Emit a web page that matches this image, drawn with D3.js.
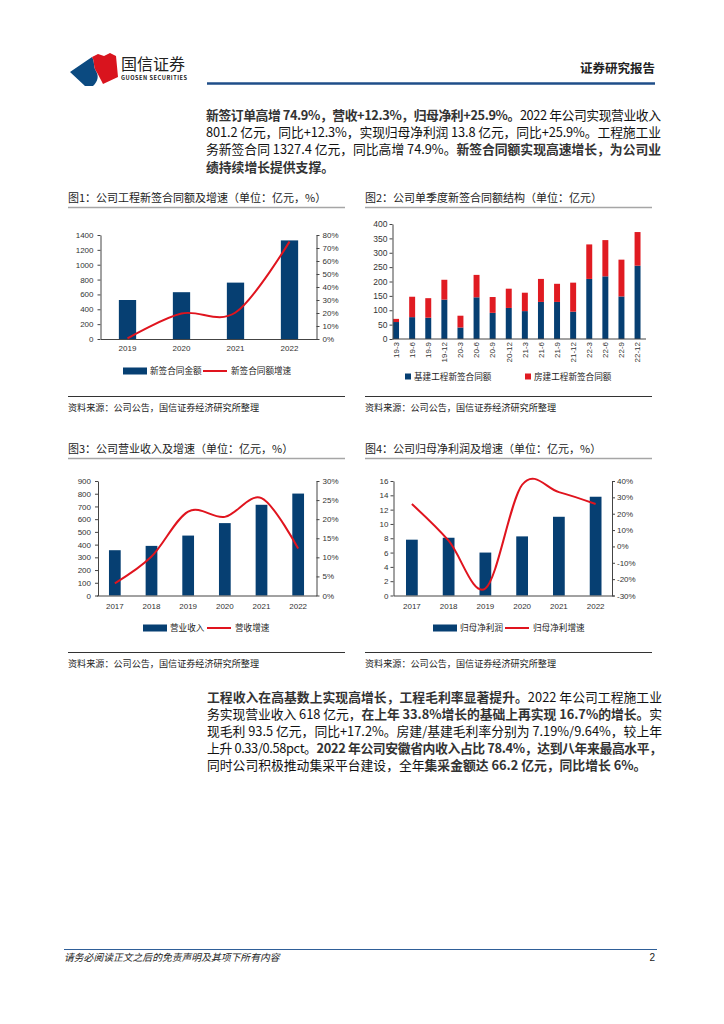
<!DOCTYPE html>
<html>
<head>
<meta charset="utf-8">
<script src="https://cdn.jsdelivr.net/npm/d3@7"></script>
<style>
body { margin: 0; background: #fff; }
svg text { font-family: "Noto Sans CJK SC", "Noto Sans", sans-serif; fill: #222; }
.tick text { font-family: "Liberation Sans", Arial, sans-serif; font-size: 8px; fill: #333; }
.domain, .tick line { stroke: #444; }
</style>
</head>
<body>
<svg id="page" width="724" height="1024"></svg>
<script>
// 图1 数据
var c1Years = ["2019", "2020", "2021", "2022"];
var c1Amount = [525, 630, 759, 1327.4];
var c1Growth = [0.5, 19.6, 20.4, 74.9];
var c1LeftTicks = [0, 200, 400, 600, 800, 1000, 1200, 1400];
var c1RightTicks = [0, 10, 20, 30, 40, 50, 60, 70, 80];

// 图2 数据
var c2Quarters = ["19-3", "19-6", "19-9", "19-12", "20-3", "20-6", "20-9", "20-12",
                  "21-3", "21-6", "21-9", "21-12", "22-3", "22-6", "22-9", "22-12"];
var c2Infra = [59, 76, 74, 137, 40, 145, 91, 108, 97, 129, 129, 95, 209, 218, 148, 255];
var c2Housing = [11, 71, 68, 69, 41, 78, 55, 67, 64, 80, 63, 101, 120, 126, 128, 117];
var c2Ticks = [0, 50, 100, 150, 200, 250, 300, 350, 400];

// 图3 数据
var c3Years = ["2017", "2018", "2019", "2020", "2021", "2022"];
var c3Revenue = [356, 390, 471, 569, 713, 801.2];
var c3Growth = [3.2, 10.2, 22.0, 20.6, 25.5, 12.3];
var c3LeftTicks = [0, 100, 200, 300, 400, 500, 600, 700, 800, 900];
var c3RightTicks = [0, 5, 10, 15, 20, 25, 30];

// 图4 数据
var c4Years = ["2017", "2018", "2019", "2020", "2021", "2022"];
var c4Profit = [7.8, 8.07, 6.0, 8.26, 11.0, 13.8];
var c4Growth = [25.9, 3.5, -25.7, 37.7, 33.2, 25.9];
var c4LeftTicks = [0, 2, 4, 6, 8, 10, 12, 14, 16];
var c4RightTicks = [-30, -20, -10, 0, 10, 20, 30, 40];

// 正文
var topLines = [
  [["新签订单高增 74.9%，营收+12.3%，归母净利+25.9%。", 1], ["2022 年公司实现营业收入", 0]],
  [["801.2 亿元，同比+12.3%，实现归母净利润 13.8 亿元，同比+25.9%。工程施工业", 0]],
  [["务新签合同 1327.4 亿元，同比高增 74.9%。", 0], ["新签合同额实现高速增长，为公司业", 1]],
  [["绩持续增长提供支撑。", 1]]
];
var bottomLines = [
  [["工程收入在高基数上实现高增长，工程毛利率显著提升。", 1], ["2022 年公司工程施工业", 0]],
  [["务实现营业收入 618 亿元，", 0], ["在上年 33.8%增长的基础上再实现 16.7%的增长。", 1], ["实", 0]],
  [["现毛利 93.5 亿元，同比+17.2%。房建/基建毛利率分别为 7.19%/9.64%，较上年", 0]],
  [["上升 0.33/0.58pct。", 0], ["2022 年公司安徽省内收入占比 78.4%，达到八年来最高水平，", 1]],
  [["同时公司积极推动集采平台建设，全年", 0], ["集采金额达 66.2 亿元，同比增长 6%。", 1]]
];

var BLUE = "#063f72", RED = "#e0141e";
var svg = d3.select("#page");

// 页眉
svg.append("path").attr("d", "M70,72 L92,57 C95,62 93,66 96,71 C99,76 98,81 93,86 L85,86 Z").attr("fill", "#0b4a80");
svg.append("path").attr("d", "M92,57 L98,54 L104,56 L110,53 L116,56 L118,77 L103,84 C101,80 99,76 96,71 C93,66 95,62 92,57 Z").attr("fill", "#d9141e");
svg.append("text").attr("x", 121).attr("y", 70).attr("font-size", 16).attr("fill", "#333").text("国信证券");
svg.append("text").attr("x", 121).attr("y", 80).attr("font-size", 5.6).attr("font-family", "Liberation Sans").attr("font-weight", "bold")
  .attr("fill", "#333").attr("textLength", 66).text("GUOSEN SECURITIES");
svg.append("text").attr("x", 655).attr("y", 73).attr("text-anchor", "end").attr("font-size", 12.5).attr("font-weight", "bold")
  .attr("fill", "#444").text("证券研究报告");
svg.append("line").attr("x1", 207).attr("x2", 655).attr("y1", 83.5).attr("y2", 83.5).attr("stroke", "#1f4e89").attr("stroke-width", 2.5);

function paragraph(lines, x, y0, lh, width) {
  lines.forEach(function (segs, i) {
    var t = svg.append("text").attr("x", x).attr("y", y0 + i * lh).attr("font-size", 12.8);
    if (i < lines.length - 1) t.attr("textLength", width).attr("lengthAdjust", "spacing");
    segs.forEach(function (s) {
      t.append("tspan").attr("font-weight", s[1] ? "bold" : "normal").attr("fill", s[1] ? "#333" : "#111").text(s[0]);
    });
  });
}
paragraph(topLines, 206, 120, 17.2, 455);
paragraph(bottomLines, 207, 702, 17, 455);

function frame(x0, x1, titleY, title, bottomY) {
  svg.append("text").attr("x", x0).attr("y", titleY).attr("font-size", 11).attr("fill", "#222").text(title);
  svg.append("line").attr("x1", x0).attr("x2", x1).attr("y1", titleY + 5.5).attr("y2", titleY + 5.5).attr("stroke", "#a6a6a6").attr("stroke-width", 1.5);
  svg.append("line").attr("x1", x0).attr("x2", x1).attr("y1", bottomY).attr("y2", bottomY).attr("stroke", "#333").attr("stroke-width", 1);
  svg.append("text").attr("x", x0).attr("y", bottomY + 14).attr("font-size", 9.1).attr("fill", "#222").text("资料来源：公司公告，国信证券经济研究所整理");
}

function combo(c) {
  var g = svg.append("g");
  var x = d3.scaleBand().domain(c.cats).range(c.xr);
  var yL = d3.scaleLinear().domain(c.ld).range(c.yr);
  var yR = d3.scaleLinear().domain(c.rd).range(c.yr);
  var bw = x.bandwidth() * c.bf;
  g.selectAll("rect").data(c.bars).join("rect")
    .attr("x", function (d, i) { return x(c.cats[i]) + (x.bandwidth() - bw) / 2; })
    .attr("width", bw)
    .attr("y", function (d) { return yL(d); })
    .attr("height", function (d) { return yL(c.ld[0]) - yL(d); })
    .attr("fill", BLUE);
  g.append("g").attr("transform", "translate(" + c.axL + ",0)")
    .call(d3.axisLeft(yL).tickValues(c.lt).tickSize(3).tickSizeOuter(0).tickPadding(c.padL).tickFormat(d3.format("d")));
  g.append("g").attr("transform", "translate(" + c.axR + ",0)")
    .call(d3.axisRight(yR).tickValues(c.rt).tickSize(3).tickSizeOuter(0).tickPadding(c.padR).tickFormat(function (d) { return d + "%"; }));
  g.append("g").attr("transform", "translate(0," + c.yr[0] + ")")
    .call(d3.axisBottom(x).tickSize(0).tickSizeOuter(0).tickPadding(c.padX));
  var line = d3.line()
    .x(function (d, i) { return x(c.cats[i]) + x.bandwidth() / 2; })
    .y(function (d) { return yR(d); })
    .curve(d3.curveCardinal);
  g.append("path").datum(c.growth).attr("d", line).attr("fill", "none").attr("stroke", RED).attr("stroke-width", 2);
  // 图例
  var ly = c.legY;
  g.append("rect").attr("x", c.leg[0]).attr("y", ly - 3.5).attr("width", 24).attr("height", 7).attr("fill", BLUE);
  g.append("text").attr("x", c.leg[0] + 27).attr("y", ly).attr("dy", "0.35em").attr("font-size", 8.6).text(c.names[0]);
  g.append("line").attr("x1", c.leg[1]).attr("x2", c.leg[1] + 24).attr("y1", ly).attr("y2", ly).attr("stroke", RED).attr("stroke-width", 2);
  g.append("text").attr("x", c.leg[1] + 28).attr("y", ly).attr("dy", "0.35em").attr("font-size", 8.6).text(c.names[1]);
}

// 图1
frame(68, 345, 202, "图1：公司工程新签合同额及增速（单位：亿元，%）", 396.5);
combo({
  cats: c1Years, bars: c1Amount, growth: c1Growth,
  xr: [100.5, 316.5], yr: [339, 235], ld: [0, 1400], rd: [0, 80],
  lt: c1LeftTicks, rt: c1RightTicks, bf: 0.32,
  axL: 100.5, axR: 316.5, padL: 4, padR: 3, padX: 6,
  legY: 371, leg: [123, 203], names: ["新签合同金额", "新签合同额增速"]
});

// 图2
frame(365, 652, 202, "图2：公司单季度新签合同额结构（单位：亿元）", 396.5);
(function () {
  var g = svg.append("g");
  var x = d3.scaleBand().domain(c2Quarters).range([388, 645.6]);
  var y = d3.scaleLinear().domain([0, 400]).range([339, 224]);
  var bw = x.bandwidth() * 0.37;
  var rows = c2Quarters.map(function (q, i) { return { q: q, a: c2Infra[i], b: c2Housing[i] }; });
  var stack = d3.stack().keys(["a", "b"])(rows);
  var colors = [BLUE, "#e01b22"];
  stack.forEach(function (layer, k) {
    g.append("g").selectAll("rect").data(layer).join("rect")
      .attr("x", function (d) { return x(d.data.q) + (x.bandwidth() - bw) / 2; })
      .attr("width", bw)
      .attr("y", function (d) { return y(d[1]); })
      .attr("height", function (d) { return y(d[0]) - y(d[1]); })
      .attr("fill", colors[k]);
  });
  g.append("g").attr("transform", "translate(392.5,0)")
    .call(d3.axisLeft(y).tickValues(c2Ticks).tickSize(3).tickSizeOuter(0).tickPadding(2))
    .selectAll("text").style("font-size", "8.5px");
  g.append("line").attr("x1", 392.5).attr("x2", 646).attr("y1", 339).attr("y2", 339).attr("stroke", "#444");
  g.selectAll("text.q").data(c2Quarters).join("text").attr("class", "q")
    .attr("transform", function (d) { return "translate(" + (x(d) + x.bandwidth() / 2) + ",342) rotate(-90)"; })
    .attr("text-anchor", "end").attr("dy", "0.35em")
    .style("font-family", "Liberation Sans, Arial, sans-serif").style("font-size", "8px").style("fill", "#333")
    .text(function (d) { return d; });
  g.append("rect").attr("x", 405).attr("y", 373.5).attr("width", 6).attr("height", 6).attr("fill", BLUE);
  g.append("text").attr("x", 414).attr("y", 376.5).attr("dy", "0.35em").attr("font-size", 8.6).text("基建工程新签合同额");
  g.append("rect").attr("x", 525).attr("y", 373.5).attr("width", 6).attr("height", 6).attr("fill", "#e01b22");
  g.append("text").attr("x", 534).attr("y", 376.5).attr("dy", "0.35em").attr("font-size", 8.6).text("房建工程新签合同额");
})();

// 图3
frame(68, 345, 453, "图3：公司营业收入及增速（单位：亿元，%）", 652.5);
combo({
  cats: c3Years, bars: c3Revenue, growth: c3Growth,
  xr: [96.5, 316.5], yr: [595.5, 481], ld: [0, 900], rd: [0, 30],
  lt: c3LeftTicks, rt: c3RightTicks, bf: 0.32,
  axL: 98, axR: 316.5, padL: 4, padR: 3, padX: 8,
  legY: 628, leg: [143, 207], names: ["营业收入", "营收增速"]
});

// 图4
frame(365, 652, 453, "图4：公司归母净利润及增速（单位：亿元，%）", 652.5);
combo({
  cats: c4Years, bars: c4Profit, growth: c4Growth,
  xr: [393.5, 614], yr: [595.5, 481], ld: [0, 16], rd: [-30, 40],
  lt: c4LeftTicks, rt: c4RightTicks, bf: 0.32,
  axL: 393.5, axR: 612, padL: 2, padR: 2, padX: 8,
  legY: 628, leg: [433, 505], names: ["归母净利润", "归母净利增速"]
});

// 页脚
svg.append("line").attr("x1", 64).attr("x2", 657).attr("y1", 949.5).attr("y2", 949.5).attr("stroke", "#2f5f98").attr("stroke-width", 1);
svg.append("text").attr("x", 64).attr("y", 961).attr("font-size", 9.8).attr("font-style", "italic").attr("fill", "#1f4e89")
  .text("请务必阅读正文之后的免责声明及其项下所有内容");
svg.append("text").attr("x", 655).attr("y", 961).attr("text-anchor", "end").attr("font-size", 10)
  .style("font-family", "Liberation Sans, Arial").text("2");
</script>
</body>
</html>
